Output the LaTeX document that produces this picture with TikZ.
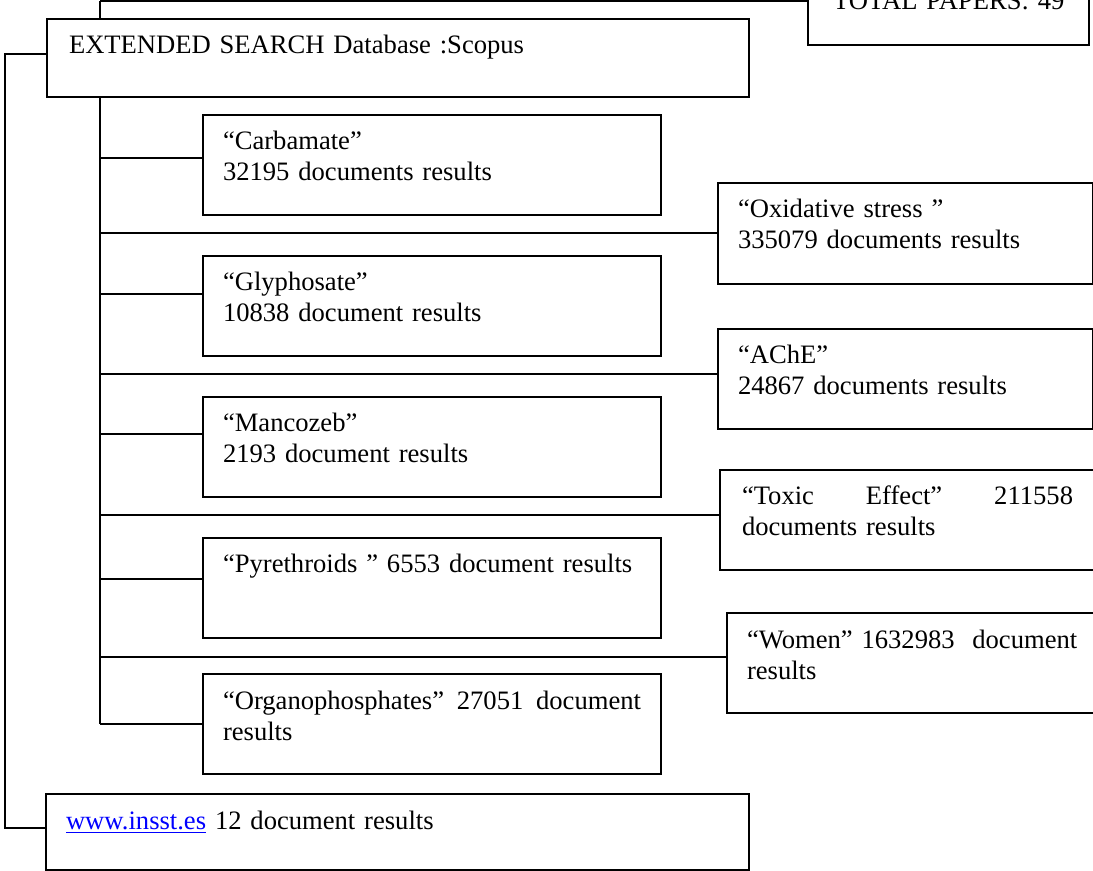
\documentclass[tikz,border=0pt]{standalone}
\usepackage{fontspec}
\setmainfont{Liberation Serif}
\usepackage{tikz}

\begin{document}
\begin{tikzpicture}[x=0.5pt, y=-0.5pt, line width=1pt,
    font=\fontsize{13.3pt}{15.5pt}\selectfont,
    entry/.style={draw, fill=white, anchor=north west, align=left,
        inner xsep=10pt, inner ysep=0pt, text width=209pt,
        text height=17.5pt, text depth=32.5pt},
    side/.style={entry, text width=167.5pt}]
    \useasboundingbox (0,0) rectangle (1093,871);
    \clip (0,0) rectangle (1093,871);

    % Head of the search
    \node[entry, inner xsep=12.5pt, text width=115.5pt, text depth=17.5pt] (total) at (807,-26) {\mbox{TOTAL PAPERS: 49}};
    \node[entry, inner xsep=11pt, text width=329pt, text depth=21.5pt] (ext) at (46,18) {EXTENDED SEARCH Database :Scopus};
    \coordinate (trunk) at (100,1);
    \coordinate (rim) at (5,1);

    % Pesticide terms
    \node[entry] (carb) at (202,114) {“Carbamate”\\32195 documents results};
    \node[entry] (gly) at (202,255) {“Glyphosate”\\10838 document results};
    \node[entry] (manc) at (202,396) {“Mancozeb”\\2193 document results};
    \node[entry] (pyr) at (202,537) {“Pyrethroids ” 6553 document results};
    \node[entry] (org) at (202,673) {“Organophosphates”\hfill 27051\hfill document\\results};

    % Effect terms
    \node[side, text depth=33pt] (oxid) at (717,182) {“Oxidative stress ”\\335079 documents results};
    \node[side] (ache) at (717,328) {“AChE”\\24867 documents results};
    \node[side, inner xsep=11pt, text width=165.5pt] (toxic) at (719,469) {“Toxic\hfill Effect”\hfill 211558\\documents results};
    \node[side] (women) at (726,612) {“Women” 1632983\ \ document\\results};

    % Other source
    \node[entry, text width=331.5pt, text depth=20.5pt] (www) at (45,793) {\textcolor{blue}{\underline{www.insst.es}} 12 document results};

    % Tree lines
    \draw (trunk) -- (trunk -| total.west);
    \draw (trunk) -- (trunk |- ext.north);
    \draw (trunk |- ext.south) -- (trunk |- org.west);
    \foreach \n/\dy in {carb/3.5, gly/6, manc/6.5, pyr/4.5, org/0, oxid/0, ache/2.5, toxic/2.5, women/3}
        \draw ([yshift=\dy pt]\n.west) -- ([yshift=\dy pt]\n.west -| trunk);
    \draw ([yshift=2pt]ext.west) -- ([yshift=2pt]ext.west -| rim) -- ([yshift=2pt]www.west -| rim) -- ([yshift=2pt]www.west);
\end{tikzpicture}
\end{document}
